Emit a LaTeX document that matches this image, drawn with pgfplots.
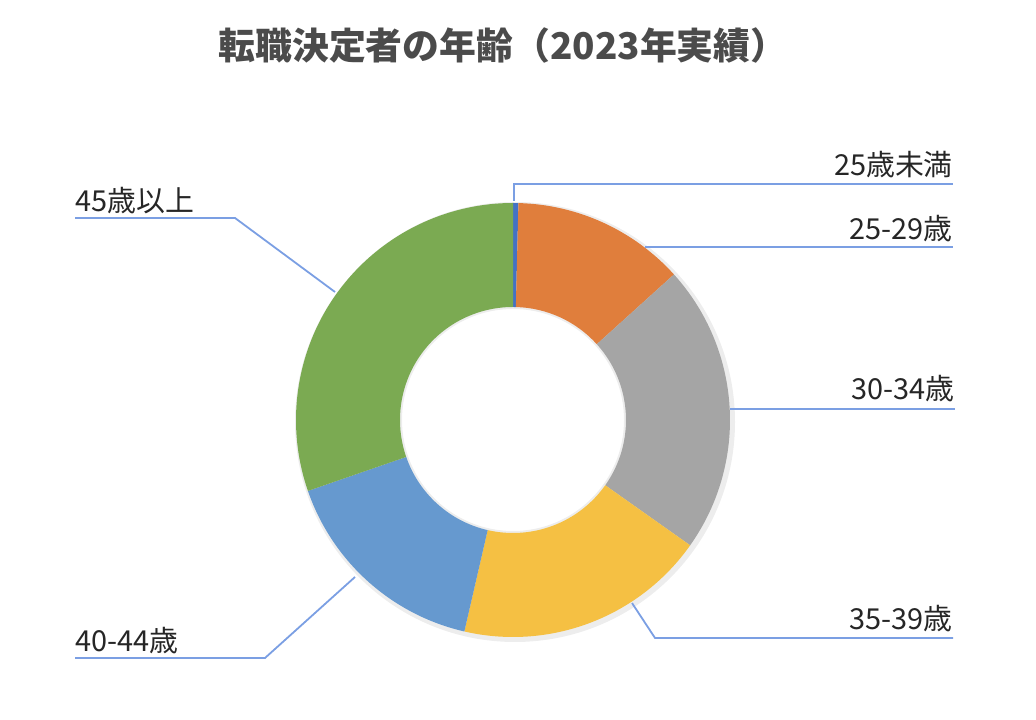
\documentclass[border=0pt]{standalone}
\usepackage{fontspec}
\setmainfont{Noto Sans CJK JP}
\usepackage{etoolbox}
\usepackage{pgfplots}
\usepackage{pgfplotstable}
\pgfplotsset{compat=1.18}

\definecolor{cU}{HTML}{4472C4}
\definecolor{cA}{HTML}{E07E3C}
\definecolor{cB}{HTML}{A5A5A5}
\definecolor{cC}{HTML}{F5C043}
\definecolor{cD}{HTML}{6699CF}
\definecolor{cE}{HTML}{7BAA52}
\definecolor{leader}{HTML}{7B9FE3}
\definecolor{labeltext}{HTML}{262626}
\definecolor{titletext}{HTML}{4B4B4B}

% share of job changers by age (%), clockwise from 12 o'clock
\pgfplotstableread[col sep=comma]{
group,value,color
u25,0.4,cU
a25,12.9,cA
a30,21.5,cB
a35,18.8,cC
a40,16.1,cD
a45,30.3,cE
}\agedata

% donut geometry, in px of the picture
\def\cx{513}\def\cy{300}\def\ro{217}\def\ri{113}

\def\donut{}
\def\cum{0}
\pgfplotstablegetrowsof{\agedata}
\pgfmathtruncatemacro\lastrow{\pgfplotsretval-1}
\pgfplotsforeachungrouped \rowi in {0,...,\lastrow}{%
  \pgfplotstablegetelem{\rowi}{value}\of\agedata \let\sliceval\pgfplotsretval
  \pgfplotstablegetelem{\rowi}{color}\of\agedata \let\slicecol\pgfplotsretval
  \pgfmathsetmacro\aone{90-3.6*\cum}%
  \pgfmathsetmacro\cum{\cum+\sliceval}%
  \pgfmathsetmacro\atwo{90-3.6*\cum}%
  \pgfmathsetmacro\xout{\cx+\ro*cos(\aone)}%
  \pgfmathsetmacro\yout{\cy+\ro*sin(\aone)}%
  \pgfmathsetmacro\xin{\cx+\ri*cos(\atwo)}%
  \pgfmathsetmacro\yin{\cy+\ri*sin(\atwo)}%
  \xappto\donut{\noexpand\fill[\slicecol] (axis cs:\xout,\yout)
    arc[start angle=\aone,end angle=\atwo,radius=\ro bp]
    -- (axis cs:\xin,\yin)
    arc[start angle=\atwo,end angle=\aone,radius=\ri bp] -- cycle;}%
}

\begin{document}
\begin{tikzpicture}[
  lbl/.style={inner sep=0pt, text=labeltext, font=\fontsize{29}{32}\selectfont},
  ld/.style={draw=leader, line width=1.8bp},
]
\begin{axis}[
  width=1036bp, height=720bp, scale only axis,
  xmin=0, xmax=1036, ymin=0, ymax=720,
  hide axis, clip=false,
]
\path (axis cs:0,0) rectangle (axis cs:1036,720);
% faint shadow round the ring
\fill[black, opacity=0.07, even odd rule]
  (axis cs:515,298) circle[radius=220bp] (axis cs:513,300) circle[radius=111bp];
\donut

\node[text=titletext, font=\bfseries\fontsize{37}{42}\selectfont]
  at (axis cs:503,674) {転職決定者の年齢（2023年実績）};

% leader lines and labels
\draw[ld] (axis cs:514,519) -- (axis cs:514,536) -- (axis cs:953,536);
\node[lbl, anchor=base east] at (axis cs:953,544) {25歳未満};
\draw[ld] (axis cs:645,473) -- (axis cs:953,473);
\node[lbl, anchor=base east] at (axis cs:953,480) {25-29歳};
\draw[ld] (axis cs:730,311) -- (axis cs:955,311);
\node[lbl, anchor=base east] at (axis cs:955,320) {30-34歳};
\draw[ld] (axis cs:632,117) -- (axis cs:655,82) -- (axis cs:953,82);
\node[lbl, anchor=base east] at (axis cs:953,90) {35-39歳};
\draw[ld] (axis cs:355,143) -- (axis cs:265,62) -- (axis cs:75,62);
\node[lbl, anchor=base west] at (axis cs:75,68) {40-44歳};
\draw[ld] (axis cs:335,428) -- (axis cs:235,502) -- (axis cs:75,502);
\node[lbl, anchor=base west] at (axis cs:75,508) {45歳以上};
\end{axis}
\end{tikzpicture}
\end{document}
